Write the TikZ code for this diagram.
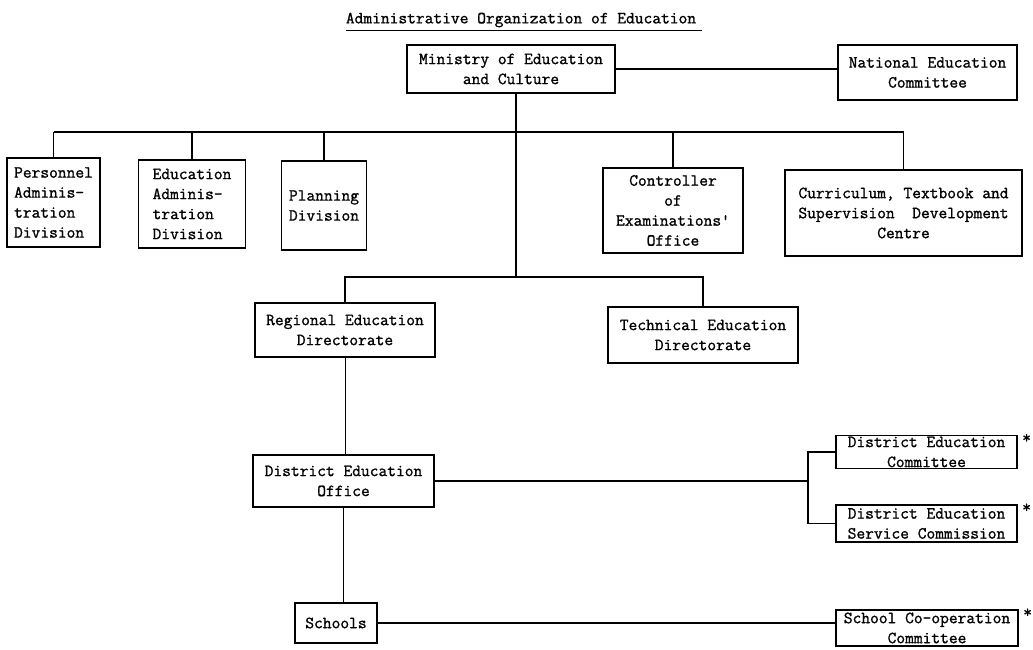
\documentclass[tikz,border=0pt]{standalone}
\usepackage{fontspec}
\newfontfamily\twfont{Latin Modern Mono}[FakeBold=1.2]
\begin{document}
\begin{tikzpicture}[x=1pt,y=-1pt,
  every node/.style={font=\twfont\fontsize{17}{20}\selectfont, inner sep=0pt},
  box/.style={draw, line width=1.2pt, align=center},
  lbox/.style={draw, line width=1.2pt, align=left},
  conn/.style={line width=1.1pt},
  thinconn/.style={line width=0.7pt},
  star/.style={anchor=north}]
\useasboundingbox (0,0) rectangle (1033,650);
% title
\node (title) at (521,20) {Administrative Organization of Education};
\draw[conn] ([yshift=-3pt]title.south west) -- ([yshift=-3pt,xshift=6pt]title.south east);
% top
\node[box, minimum width=208pt, minimum height=48pt] (min) at (511,69) {Ministry of Education\\and Culture};
\node[box, minimum width=179pt, minimum height=55pt] (nat) at (927.5,72.5) {National Education\\Committee};
% divisions
\node[lbox, minimum width=93pt, minimum height=89pt] (pers) at (53.5,202.5) {Personnel\\Adminis-\\tration\\Division};
\node[lbox, minimum width=107pt, minimum height=88pt] (eda) at (192,204) {Education\\Adminis-\\tration\\Division};
\node[lbox, minimum width=85pt, minimum height=89pt] (plan) at (324,205.5) {Planning\\Division};
\node[box, minimum width=140pt, minimum height=85pt] (ctrl) at (673,210.5) {Controller\\of\\Examinations'\\Office};
\node[box, minimum width=237pt, minimum height=86pt] (cur) at (903.5,213) {Curriculum, Textbook and\\Supervision\ \ Development\\Centre};
% directorates
\node[box, minimum width=180pt, minimum height=54pt] (reg) at (345,330) {Regional Education\\Directorate};
\node[box, minimum width=190pt, minimum height=56pt] (tech) at (703,335) {Technical Education\\Directorate};
% district
\node[box, minimum width=181pt, minimum height=52pt] (deo) at (343.5,481) {District Education\\Office};
\node[box, minimum width=181pt, minimum height=33pt] (dec) at (926.5,452) {District Education\\Committee};
\node[box, minimum width=181pt, minimum height=37pt] (desc) at (926.5,523.5) {District Education\\Service Commission};
% schools
\node[box, minimum width=82pt, minimum height=40pt] (sch) at (336,623) {Schools};
\node[box, minimum width=182pt, minimum height=36pt] (scc) at (927,628) {School Co-operation\\Committee};
% asterisks
\node[star] (s1) at ([xshift=9pt,yshift=1pt]dec.north east) {*};
\node[star] (s2) at ([xshift=9pt,yshift=1pt]desc.north east) {*};
\node[star] (s3) at ([xshift=9pt,yshift=1pt]scc.north east) {*};
% connectors
\coordinate (j1) at (516,132);
\coordinate (j2) at (516,277);
\coordinate (k) at (808,484);
\draw[conn] (min.east) -- (min.east -| nat.west);
\draw[conn] (min.south -| j1) -- (j2);
\draw[conn] (pers.north |- j1) -- (cur.north |- j1);
\foreach \n in {pers,eda,plan,ctrl,cur} \draw[conn] (\n.north) -- (\n.north |- j1);
\draw[conn] (reg.north) -- (reg.north |- j2) -- (tech.north |- j2) -- (tech.north);
\draw[thinconn] (reg.south) -- (reg.south |- deo.north);
\draw[thinconn] (deo.south) -- (deo.south |- sch.north);
\draw[conn] (deo.east) -- (deo.east -| k);
\draw[conn] (dec.west) -- (dec.west -| k) -- (desc.west -| k) -- (desc.west);
\draw[conn] (sch.east) -- (sch.east -| scc.west);
\end{tikzpicture}
\end{document}
